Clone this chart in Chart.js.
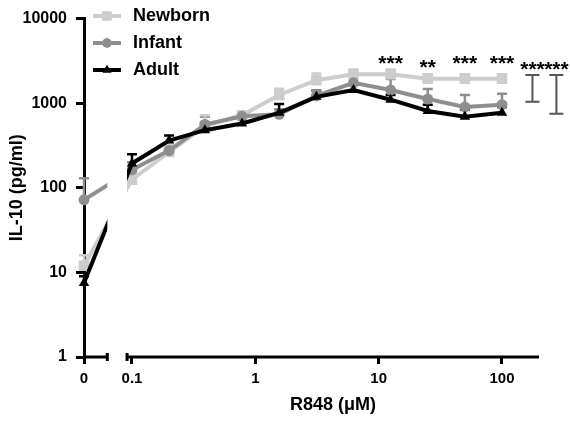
<!DOCTYPE html>
<html>
<head>
<meta charset="utf-8">
<script src="https://cdn.jsdelivr.net/npm/chart.js@4/dist/chart.umd.min.js"></script>
<style>
  html, body { margin: 0; padding: 0; background: #fff; }
  canvas { display: block; }
</style>
</head>
<body>
<canvas id="chart" width="570" height="423"></canvas>
<script>
// R848 concentrations (uM), 0 = unstimulated
const conc = [0, 0.1, 0.2, 0.39, 0.78, 1.56, 3.125, 6.25, 12.5, 25, 50, 100];

// IL-10 means (pg/ml) and top of error bar (mean + SEM)
const newborn    = [12, 125, 265, 540, 720, 1250, 1870, 2200, 2200, 1950, 1950, 1950];
const newbornTop = [16, 150, 320, 720, 800, 1480, 2250, 2500, 2500, 2200, 2200, 2200];
const infant     = [72, 163, 276, 560, 700, 740, 1220, 1740, 1430, 1120, 900, 960];
const infantTop  = [130, 200, 320, 690, 770, 850, 1400, 2100, 1930, 1470, 1250, 1290];
const adult      = [7.5, 194, 362, 480, 575, 770, 1190, 1430, 1100, 810, 690, 770];
const adultTop   = [9, 250, 415, 540, 650, 980, 1400, 1650, 1250, 960, 840, 900];

// significance marks (label baseline given in pg/ml)
const starConc = [12.5, 25, 50, 100];
const starText = ['***', '**', '***', '***'];
const starLevel = [2500, 2230, 2500, 2500];

// brackets right of the data (x in log10 units, y range in pg/ml)
const bracketX   = [2.247, 2.441];
const bracketLow = [1040, 750];
const bracketHigh = 2150;
const bracketStarLevel = 2120;

const yTicks = [1, 10, 100, 1000, 10000];
const ZERO_POS = -1.389;          // where "0" sits on the log x axis
const axisBreak = [-1.2, -1.04];  // gap in the x axis

const toX = c => c === 0 ? ZERO_POS : Math.log10(c);
const pts = arr => arr.map((v, i) => ({ x: toX(conc[i]), y: v }));

const FONT = '"Liberation Sans", Arial, sans-serif';

const series = [
  { label: 'Newborn', data: newborn, top: newbornTop, color: '#cdcdcd', style: 'rect', radius: 7.5 },
  { label: 'Infant', data: infant, top: infantTop, color: '#8e8e8e', style: 'circle', radius: 5.5 },
  { label: 'Adult', data: adult, top: adultTop, color: '#000000', style: 'triangle', radius: 6 }
];

const graphPlugin = {
  id: 'graph',
  beforeDatasetsDraw(chart) {
    const ctx = chart.ctx;
    const x = chart.scales.x;
    const y = chart.scales.y;
    const g0 = x.getPixelForValue(axisBreak[0]);
    const g1 = x.getPixelForValue(axisBreak[1]);
    ctx.save();
    ctx.beginPath();
    ctx.rect(0, 0, g0, chart.height);
    ctx.rect(g1, 0, chart.width - g1, chart.height);
    ctx.clip();

    // error bars (upper only)
    series.slice().reverse().forEach(s => {
      ctx.strokeStyle = s.color;
      ctx.lineWidth = 2.5;
      s.data.forEach((v, i) => {
        const px = x.getPixelForValue(toX(conc[i]));
        const py = y.getPixelForValue(v);
        const pt = y.getPixelForValue(s.top[i]);
        ctx.beginPath();
        ctx.moveTo(px, py);
        ctx.lineTo(px, pt);
        ctx.moveTo(px - 5, pt);
        ctx.lineTo(px + 5, pt);
        ctx.stroke();
      });
    });
  },
  afterDatasetsDraw(chart) {
    chart.ctx.restore();
  },
  afterDraw(chart) {
    const ctx = chart.ctx;
    const x = chart.scales.x;
    const y = chart.scales.y;
    const area = chart.chartArea;
    const g0 = x.getPixelForValue(axisBreak[0]);
    const g1 = x.getPixelForValue(axisBreak[1]);
    const by = area.bottom;

    // broken x axis
    ctx.save();
    ctx.strokeStyle = '#000';
    ctx.lineWidth = 3;
    ctx.beginPath();
    ctx.moveTo(area.left, by);
    ctx.lineTo(g0, by);
    ctx.moveTo(g1, by);
    ctx.lineTo(area.right, by);
    ctx.moveTo(g0, by - 4);
    ctx.lineTo(g0, by + 4);
    ctx.moveTo(g1, by - 4);
    ctx.lineTo(g1, by + 4);
    ctx.stroke();

    // x title, centred under the right segment
    ctx.fillStyle = '#000';
    ctx.font = 'bold 18px ' + FONT;
    ctx.textAlign = 'center';
    ctx.textBaseline = 'middle';
    ctx.fillText('R848 (\u03bcM)', (g1 + area.right) / 2, 405);

    // stars
    ctx.font = 'bold 21px ' + FONT;
    ctx.textBaseline = 'alphabetic';
    starConc.forEach((c, i) => {
      ctx.fillText(starText[i], x.getPixelForValue(toX(c)), y.getPixelForValue(starLevel[i]));
    });

    // brackets
    ctx.strokeStyle = '#555';
    ctx.lineWidth = 2;
    bracketX.forEach((bx, i) => {
      const px = x.getPixelForValue(bx);
      const t = y.getPixelForValue(bracketHigh);
      const b = y.getPixelForValue(bracketLow[i]);
      ctx.beginPath();
      ctx.moveTo(px, t);
      ctx.lineTo(px, b);
      ctx.moveTo(px - 7, t);
      ctx.lineTo(px + 7, t);
      ctx.moveTo(px - 7, b);
      ctx.lineTo(px + 7, b);
      ctx.stroke();
      ctx.fillText('***', px, y.getPixelForValue(bracketStarLevel));
    });

    // legend
    ctx.font = 'bold 18px ' + FONT;
    ctx.textAlign = 'left';
    ctx.textBaseline = 'middle';
    series.forEach((s, i) => {
      const ly = 16 + i * 27;
      ctx.strokeStyle = s.color;
      ctx.lineWidth = 4;
      ctx.beginPath();
      ctx.moveTo(93, ly);
      ctx.lineTo(121, ly);
      ctx.stroke();
      ctx.fillStyle = s.color;
      Chart.helpers.drawPoint(ctx, { pointStyle: s.style, radius: s.radius * 0.85, rotation: 0, borderWidth: 0 }, 107, ly);
      ctx.fill();
      ctx.fillStyle = '#000';
      ctx.fillText(s.label, 133, ly);
    });
    ctx.restore();
  }
};

new Chart(document.getElementById('chart'), {
  type: 'line',
  data: {
    datasets: series.map((s, i) => ({
      label: s.label,
      data: pts(s.data),
      borderColor: s.color,
      backgroundColor: s.color,
      borderWidth: 4,
      pointStyle: s.style,
      pointRadius: s.radius,
      pointBorderWidth: 0,
      tension: 0,
      clip: false,
      order: 3 - i
    }))
  },
  options: {
    responsive: false,
    animation: false,
    layout: { padding: { top: 16, right: 31, left: 0, bottom: 0 } },
    plugins: { legend: { display: false }, tooltip: { enabled: false } },
    scales: {
      x: {
        type: 'linear',
        min: ZERO_POS,
        max: 2.30,
        border: { display: false },
        grid: { drawOnChartArea: false, color: '#000', lineWidth: 3, tickLength: 7 },
        afterBuildTicks: s => { s.ticks = [ZERO_POS, -1, 0, 1, 2].map(v => ({ value: v })); },
        afterFit: s => { s.height = 66; },
        ticks: {
          color: '#000',
          font: { family: FONT, size: 15, weight: 'bold' },
          padding: 6,
          maxRotation: 0,
          callback: v => v === ZERO_POS ? '0' : String(Math.pow(10, v))
        }
      },
      y: {
        type: 'logarithmic',
        min: 1,
        max: 10000,
        border: { display: true, color: '#000', width: 3 },
        grid: { drawOnChartArea: false, color: '#000', lineWidth: 3, tickLength: 8 },
        afterBuildTicks: s => { s.ticks = yTicks.map(v => ({ value: v })); },
        afterFit: s => { s.width = 84; },
        ticks: {
          color: '#000',
          font: { family: FONT, size: 16, weight: 'bold' },
          padding: 9,
          callback: v => String(v)
        },
        title: {
          display: true,
          text: 'IL-10 (pg/ml)',
          color: '#000',
          font: { family: FONT, size: 18, weight: 'bold' },
          padding: { top: 6, bottom: 0 }
        }
      }
    }
  },
  plugins: [graphPlugin]
});
</script>
</body>
</html>
